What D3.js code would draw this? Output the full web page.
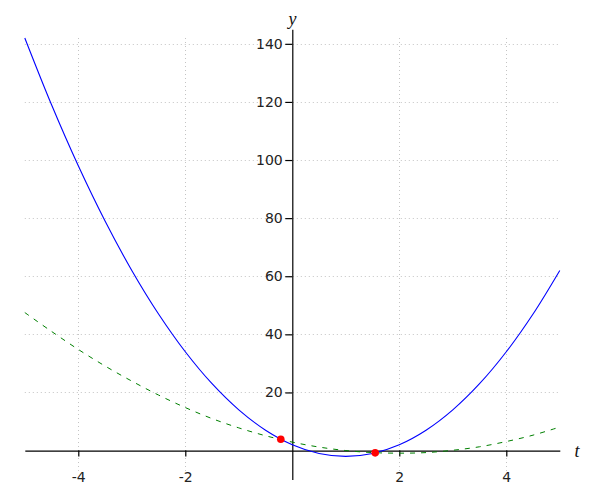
<!DOCTYPE html>
<html>
<head>
<meta charset="utf-8">
<script src="https://cdn.jsdelivr.net/npm/d3@7"></script>
<style>
  html, body { margin: 0; padding: 0; background: #fff; }
  svg { display: block; }
</style>
</head>
<body>
<svg id="chart" width="600" height="500"></svg>
<script>
// ---- data ----
const tValues     = [-5, -4.5, -4, -3.5, -3, -2.5, -2, -1.5, -1, -0.5, 0, 0.5, 1, 1.5, 2, 2.5, 3, 3.5, 4, 4.5, 5];
const blueValues  = [142, 119, 98, 79, 62, 47, 34, 23, 14, 7, 2, -1, -2, -1, 2, 7, 14, 23, 34, 47, 62];
const greenValues = [47.5, 41, 34.8, 29.1, 23.9, 19.1, 14.8, 11.0, 7.8, 5.1, 2.9, 1.2, 0, -0.7, -0.9, -0.7, 0.1, 1.3, 3.1, 5.3, 8.1];
const pointT = [-0.215, 1.549];
const pointY = [3.90, -0.79];
const xTicks = [-4, -2, 2, 4];
const yTicks = [20, 40, 60, 80, 100, 120, 140];
const xLabel = "t";
const yLabel = "y";

// ---- layout ----
const svg = d3.select("#chart");
const x = d3.scaleLinear().domain([-5, 5]).range([24.8, 559.8]);
const y = d3.scaleLinear().domain([-10, 145]).range([479.6, 29.3]);
const fontFamily = "'DejaVu Sans', sans-serif";

// grid
const grid = svg.append("g").attr("stroke", "#c4c4c4").attr("stroke-width", 1)
  .attr("stroke-dasharray", "1,3").attr("fill", "none");
grid.selectAll("line.v").data(xTicks).join("line").attr("class", "v")
  .attr("x1", d => Math.round(x(d)) + 0.5).attr("x2", d => Math.round(x(d)) + 0.5)
  .attr("y1", y(142)).attr("y2", y(-7));
grid.selectAll("line.h").data(yTicks).join("line").attr("class", "h")
  .attr("x1", x(-5)).attr("x2", x(5))
  .attr("y1", d => Math.round(y(d)) + 0.5).attr("y2", d => Math.round(y(d)) + 0.5);

// axes
const xAxis = svg.append("g")
  .attr("transform", `translate(0,${y(0)})`)
  .call(d3.axisBottom(x).tickValues(xTicks).tickSizeInner(6).tickSizeOuter(0).tickPadding(15.5)
    .tickFormat(d3.format("d")));
const yAxis = svg.append("g")
  .attr("transform", `translate(${x(0)},0)`)
  .call(d3.axisLeft(y).tickValues(yTicks).tickSizeInner(7).tickSizeOuter(0).tickPadding(2.6)
    .tickFormat(d3.format("d")));
[xAxis, yAxis].forEach(g => {
  g.select(".domain").attr("stroke", "#000").attr("stroke-width", 1.2);
  g.selectAll(".tick line").attr("stroke", "#000").attr("stroke-width", 1.2);
  g.selectAll(".tick text").attr("fill", "#222").style("font-family", fontFamily).style("font-size", "14px");
});
xAxis.selectAll(".tick text").text(d => d < 0 ? "-" + Math.abs(d) : String(d));

// axis labels
svg.append("text").attr("x", 577).attr("y", 457).attr("text-anchor", "middle")
  .style("font-family", "'Liberation Serif', serif").style("font-style", "italic").style("font-size", "18px")
  .attr("fill", "#111").text(xLabel);
svg.append("text").attr("x", 292.5).attr("y", 24.5).attr("text-anchor", "middle")
  .style("font-family", "'Liberation Serif', serif").style("font-style", "italic").style("font-size", "18px")
  .attr("fill", "#111").text(yLabel);

// curves
const line = d3.line().x((d, i) => x(tValues[i])).y(d => y(d)).curve(d3.curveCatmullRom.alpha(0.5));
svg.append("path").datum(greenValues).attr("d", line)
  .attr("fill", "none").attr("stroke", "#008000").attr("stroke-width", 1)
  .attr("stroke-dasharray", "5,6");
svg.append("path").datum(blueValues).attr("d", line)
  .attr("fill", "none").attr("stroke", "#0000ff").attr("stroke-width", 1.1);

// points
svg.selectAll("circle.pt").data(pointT).join("circle").attr("class", "pt")
  .attr("cx", d => x(d)).attr("cy", (d, i) => y(pointY[i])).attr("r", 3.8)
  .attr("fill", "#ff0000");
</script>
</body>
</html>
